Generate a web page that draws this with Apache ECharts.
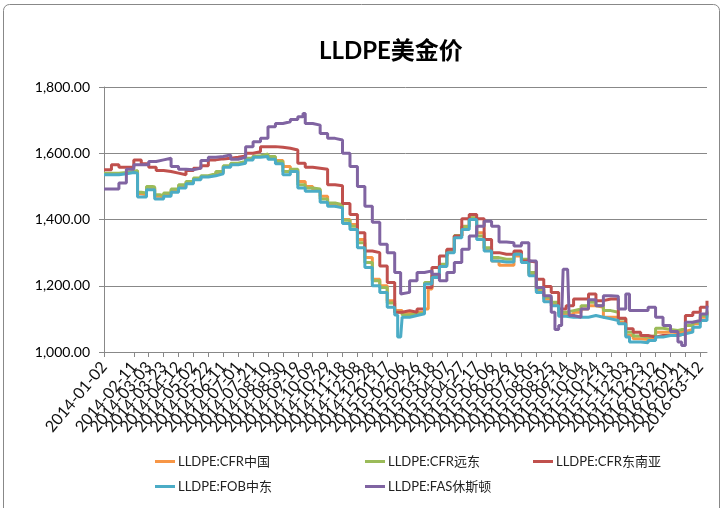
<!DOCTYPE html>
<html>
<head>
<meta charset="utf-8">
<script src="https://cdn.jsdelivr.net/npm/echarts@6/dist/echarts.min.js"></script>
<style>
  html, body { margin: 0; padding: 0; background: #fff; }
  #main { width: 724px; height: 508px; }
</style>
</head>
<body>
<div id="main"></div>
<script>
// x轴刻度标签, 每20天一个 (day index = 天数, 从2014-01-02起)
const xLabels = ['2014-01-02', '2014-01-22', '2014-02-11', '2014-03-03', '2014-03-23', '2014-04-12',
  '2014-05-02', '2014-05-22', '2014-06-11', '2014-07-01', '2014-07-21', '2014-08-10', '2014-08-30',
  '2014-09-19', '2014-10-09', '2014-10-29', '2014-11-18', '2014-12-08', '2014-12-28', '2015-01-17',
  '2015-02-06', '2015-02-26', '2015-03-18', '2015-04-07', '2015-04-27', '2015-05-17', '2015-06-06',
  '2015-06-26', '2015-07-16', '2015-08-05', '2015-08-25', '2015-09-14', '2015-10-04', '2015-10-24',
  '2015-11-13', '2015-12-03', '2015-12-23', '2016-01-12', '2016-02-01', '2016-02-21', '2016-03-12']
const lastDay = 809

const names = ['LLDPE:CFR中国', 'LLDPE:CFR远东', 'LLDPE:CFR东南亚', 'LLDPE:FOB中东', 'LLDPE:FAS休斯顿']
const colors = ['#F79646', '#9BBB59', '#C0504D', '#4BACC6', '#8064A2']

// [day, 美元/吨]
const cfrChina = [[0, 1538], [10, 1538], [20, 1540], [30, 1543], [40, 1545], [45, 1478], [50, 1475], [57, 1495],
  [65, 1495], [68, 1470], [75, 1468], [80, 1475], [90, 1488], [100, 1500], [110, 1512], [120, 1522], [130, 1530],
  [140, 1535], [150, 1542], [160, 1560], [170, 1568], [180, 1572], [190, 1582], [200, 1590], [210, 1595],
  [220, 1588], [230, 1578], [240, 1560], [250, 1550], [260, 1515], [270, 1500], [280, 1490], [290, 1470],
  [300, 1448], [310, 1440], [320, 1400], [330, 1385], [340, 1340], [350, 1285], [360, 1220], [370, 1200],
  [380, 1155], [390, 1125], [400, 1118], [410, 1120], [420, 1120], [430, 1130], [435, 1190], [440, 1230],
  [450, 1262], [460, 1305], [470, 1350], [480, 1380], [490, 1405], [500, 1360], [510, 1312], [520, 1275],
  [530, 1262], [540, 1262], [550, 1290], [560, 1275], [570, 1235], [580, 1185], [590, 1160], [600, 1145],
  [610, 1115], [620, 1112], [630, 1120], [640, 1130], [650, 1140], [660, 1135], [670, 1105], [680, 1105],
  [690, 1090], [700, 1050], [710, 1040], [720, 1038], [730, 1042], [740, 1060], [750, 1060], [760, 1058],
  [770, 1062], [780, 1068], [790, 1085], [800, 1105], [809, 1120]]

const cfrFarEast = [[0, 1540], [10, 1540], [20, 1542], [30, 1545], [40, 1548], [45, 1482], [50, 1480], [57, 1500],
  [65, 1498], [68, 1475], [75, 1472], [80, 1480], [90, 1492], [100, 1505], [110, 1515], [120, 1525], [130, 1532],
  [140, 1538], [150, 1545], [160, 1562], [170, 1570], [180, 1575], [190, 1585], [200, 1592], [210, 1598],
  [220, 1590], [230, 1575], [240, 1545], [250, 1552], [260, 1505], [270, 1495], [280, 1492], [290, 1462],
  [300, 1450], [310, 1445], [320, 1398], [330, 1380], [340, 1330], [350, 1270], [360, 1215], [370, 1195],
  [380, 1148], [390, 1120], [400, 1112], [410, 1115], [420, 1118], [430, 1210], [440, 1232], [450, 1265],
  [460, 1308], [470, 1352], [480, 1378], [490, 1405], [500, 1350], [510, 1315], [520, 1285], [530, 1280],
  [540, 1280], [550, 1300], [560, 1280], [570, 1240], [580, 1190], [590, 1165], [600, 1150], [610, 1120],
  [620, 1125], [630, 1130], [640, 1140], [650, 1150], [660, 1140], [670, 1125], [680, 1120], [690, 1100],
  [700, 1060], [710, 1048], [720, 1045], [730, 1050], [740, 1072], [750, 1068], [760, 1065], [770, 1070],
  [780, 1080], [790, 1090], [800, 1110], [809, 1125]]

const cfrSEAsia = [[0, 1550], [10, 1565], [20, 1558], [30, 1558], [40, 1580], [50, 1568], [60, 1558], [70, 1548],
  [80, 1545], [90, 1540], [100, 1535], [110, 1548], [120, 1555], [130, 1562], [140, 1580], [150, 1583],
  [160, 1585], [170, 1588], [180, 1592], [190, 1600], [200, 1605], [210, 1620], [220, 1620], [230, 1618],
  [240, 1615], [250, 1610], [260, 1570], [270, 1558], [280, 1555], [290, 1552], [300, 1505], [310, 1502],
  [320, 1448], [330, 1415], [340, 1360], [350, 1305], [360, 1300], [370, 1260], [380, 1210], [390, 1120],
  [400, 1125], [410, 1120], [420, 1130], [430, 1195], [440, 1255], [450, 1290], [460, 1310], [470, 1350],
  [480, 1402], [490, 1415], [500, 1402], [510, 1340], [520, 1300], [530, 1295], [540, 1295], [550, 1305],
  [560, 1275], [570, 1272], [580, 1220], [590, 1198], [600, 1180], [610, 1130], [620, 1140], [630, 1160],
  [640, 1160], [650, 1175], [660, 1155], [670, 1160], [680, 1160], [690, 1102], [700, 1070], [710, 1060],
  [720, 1050], [730, 1045], [740, 1050], [750, 1050], [760, 1050], [770, 1055], [780, 1110], [790, 1120],
  [800, 1135], [809, 1155]]

const fobMidEast = [[0, 1535], [10, 1535], [20, 1538], [30, 1542], [40, 1540], [45, 1468], [50, 1468], [57, 1490],
  [65, 1490], [68, 1462], [75, 1462], [80, 1470], [90, 1482], [100, 1495], [110, 1508], [120, 1520], [130, 1528],
  [140, 1532], [150, 1538], [160, 1558], [170, 1565], [180, 1570], [190, 1580], [200, 1588], [210, 1590],
  [220, 1582], [230, 1568], [240, 1535], [250, 1545], [260, 1495], [270, 1485], [280, 1485], [290, 1452],
  [300, 1440], [310, 1435], [320, 1388], [330, 1370], [340, 1315], [350, 1255], [360, 1200], [370, 1180],
  [380, 1135], [390, 1112], [394, 1045], [398, 1045], [400, 1105], [410, 1110], [420, 1115], [430, 1205],
  [440, 1225], [450, 1258], [460, 1300], [470, 1345], [480, 1370], [490, 1400], [500, 1340], [510, 1305],
  [520, 1275], [530, 1272], [540, 1272], [550, 1295], [560, 1270], [570, 1230], [580, 1180], [590, 1152],
  [600, 1140], [610, 1108], [620, 1105], [630, 1105], [640, 1105], [650, 1110], [660, 1105], [670, 1100],
  [680, 1095], [690, 1085], [700, 1045], [705, 1030], [720, 1028], [730, 1035], [740, 1045], [750, 1050],
  [760, 1050], [770, 1055], [780, 1060], [790, 1075], [800, 1095], [809, 1115]]

const fasHouston = [[0, 1492], [10, 1492], [20, 1510], [30, 1552], [40, 1565], [50, 1565], [60, 1575], [70, 1580],
  [80, 1585], [90, 1560], [100, 1552], [110, 1550], [120, 1555], [130, 1578], [140, 1588], [150, 1590],
  [160, 1595], [170, 1582], [180, 1588], [190, 1620], [200, 1635], [210, 1645], [220, 1680], [230, 1690],
  [240, 1695], [250, 1702], [260, 1710], [267, 1720], [270, 1690], [280, 1685], [290, 1660], [300, 1645],
  [310, 1640], [320, 1600], [330, 1560], [340, 1500], [350, 1440], [360, 1392], [370, 1325], [380, 1300],
  [390, 1240], [398, 1175], [400, 1180], [410, 1215], [420, 1240], [430, 1245], [440, 1235], [450, 1215],
  [460, 1240], [470, 1270], [480, 1310], [490, 1350], [500, 1380], [510, 1395], [520, 1380], [530, 1332],
  [540, 1330], [550, 1320], [560, 1330], [570, 1275], [580, 1195], [590, 1170], [600, 1120], [605, 1068],
  [610, 1080], [614, 1110], [616, 1250], [622, 1250], [624, 1110], [630, 1105], [640, 1130], [650, 1158],
  [660, 1140], [670, 1170], [680, 1168], [690, 1130], [700, 1175], [705, 1125], [720, 1125], [730, 1135],
  [740, 1105], [750, 1080], [760, 1062], [770, 1030], [775, 1020], [780, 1090], [790, 1095], [800, 1115],
  [809, 1140]]

const seriesData = [cfrChina, cfrFarEast, cfrSEAsia, fobMidEast, fasHouston]

const font = 'Lato, "Noto Sans CJK SC", sans-serif'
const myChart = echarts.init(document.getElementById('main'))

// 图例位置 (手动排成两行)
const legendPos = [[150, 450], [360, 450], [528, 450], [150, 475], [360, 475]]

myChart.setOption({
  backgroundColor: '#fff',
  animation: false,
  title: {
    text: 'LLDPE美金价',
    left: 314,
    top: 34,
    textStyle: { fontFamily: font, fontSize: 24, fontWeight: 'bold', color: '#000' }
  },
  graphic: [{
    type: 'rect',
    shape: { x: 3.5, y: 4.5, width: 716, height: 520, r: 6 },
    style: { fill: 'none', stroke: '#888', lineWidth: 1 },
    silent: true
  }],
  legend: names.map((n, i) => ({
    data: [n],
    left: legendPos[i][0],
    top: legendPos[i][1],
    icon: 'rect',
    itemWidth: 20,
    itemHeight: 3,
    itemGap: 4,
    textStyle: { fontFamily: font, fontSize: 13, color: '#222', padding: [0, 0, 0, -2] }
  })),
  grid: { left: 104, right: 17, top: 87, bottom: 156 },
  xAxis: {
    type: 'value',
    min: 0,
    max: lastDay,
    interval: 20,
    axisLine: { lineStyle: { color: '#888' } },
    axisTick: { show: true, length: 5, lineStyle: { color: '#888' } },
    splitLine: { show: false },
    axisLabel: {
      rotate: 50,
      margin: 12,
      fontFamily: font,
      fontSize: 16,
      color: '#111',
      showMinLabel: true,
      showMaxLabel: false,
      hideOverlap: false,
      formatter: v => xLabels[v / 20] || ''
    }
  },
  yAxis: {
    type: 'value',
    min: 1000,
    max: 1800,
    interval: 200,
    axisLine: { show: true, lineStyle: { color: '#888' } },
    axisTick: { show: true, length: 5, lineStyle: { color: '#888' } },
    splitLine: { lineStyle: { color: '#888' } },
    axisLabel: {
      margin: 14,
      fontFamily: font,
      fontSize: 14,
      color: '#000',
      formatter: v => v.toLocaleString('en-US', { minimumFractionDigits: 2, maximumFractionDigits: 2 })
    }
  },
  series: seriesData.map((d, i) => ({
    name: names[i],
    type: 'line',
    step: 'end',
    data: d,
    symbol: 'none',
    color: colors[i],
    lineStyle: { width: 3, color: colors[i] }
  }))
})
</script>
</body>
</html>
